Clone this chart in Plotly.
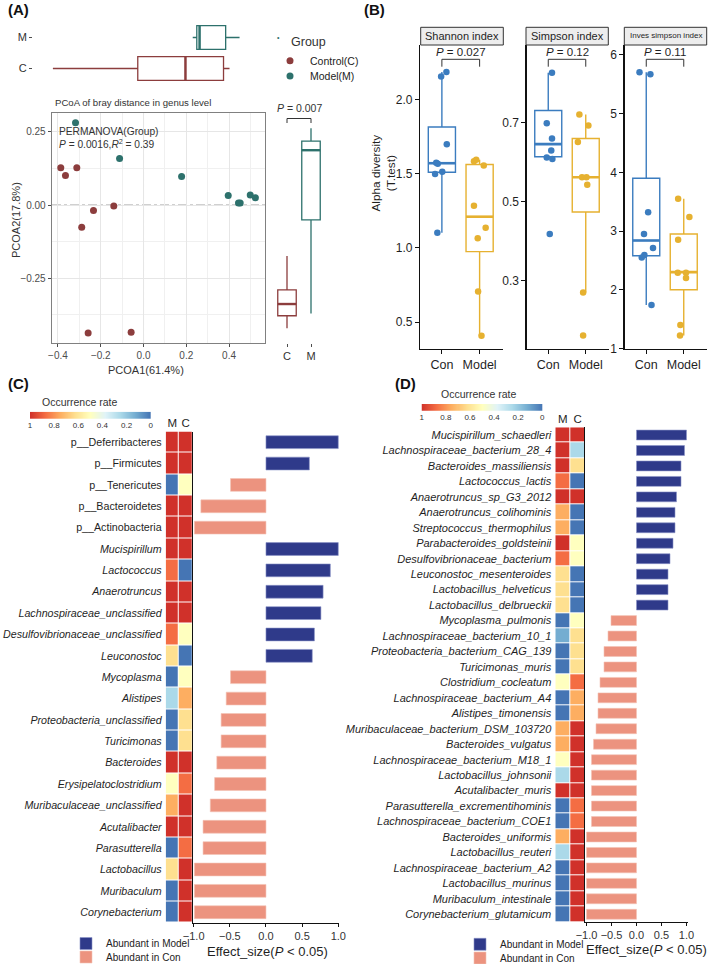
import numpy as np
import plotly.graph_objects as go

W, H = 709, 964
FONT = "Liberation Sans, Arial, Helvetica, sans-serif"
TXT = "#1f1f1f"

def fx(p):
    return p / W

def fy(p):
    return 1 - p / H

def dom_x(a, b):
    return [fx(a), fx(b)]

def dom_y(top, bot):
    return [fy(bot), fy(top)]

# ------------------------------------------------------------------ data A
GROUPS_A = ["C", "M"]
ctrl_pc1 = [-0.387, -0.365, -0.312, -0.234, -0.139, -0.289, -0.259, -0.058]
ctrl_pc2 = [0.127, 0.101, 0.127, -0.019, -0.003, -0.076, -0.437, -0.434]
model_pc1 = [-0.318, -0.112, 0.178, 0.396, 0.444, 0.452, 0.499, 0.523]
model_pc2 = [0.281, 0.159, 0.097, 0.032, 0.007, 0.007, 0.034, 0.025]
# marginal box statistics (C, M)
pc1_q1 = [-0.027, 0.249]
pc1_med = [0.196, 0.262]
pc1_q3 = [0.374, 0.384]
pc1_lo = [-0.424, 0.230]
pc1_hi = [0.402, 0.449]
pc2_q1 = [-0.378, -0.051]
pc2_med = [-0.338, 0.187]
pc2_q3 = [-0.290, 0.218]
pc2_lo = [-0.421, -0.370]
pc2_hi = [-0.174, 0.262]
LEGEND_A = ["Control(C)", "Model(M)"]

# ------------------------------------------------------------------ data B
ALPHA_GROUPS = ["Con", "Model"]
INDEX_NAMES = ["Shannon index", "Simpson index", "Inves simpson index"]
P_ALPHA = ["0.027", "0.12", "0.11"]
shannon_con = [2.157, 2.187, 1.70, 1.576, 1.568, 1.50, 1.514, 1.103]
shannon_model = [1.586, 1.595, 1.557, 1.285, 1.137, 1.066, 0.706, 0.407]
simpson_con = [0.827, 0.699, 0.660, 0.630, 0.612, 0.608, 0.418]
simpson_model = [0.721, 0.693, 0.651, 0.562, 0.562, 0.543, 0.270, 0.161]
invsimp_con = [5.705, 5.67, 3.32, 2.95, 2.71, 2.59, 2.55, 1.74]
invsimp_model = [3.55, 3.24, 2.85, 2.29, 2.29, 2.20, 1.40, 1.22]
# box statistics [Con, Model]
shannon_stats = dict(q1=[1.511, 0.975], med=[1.572, 1.211], q3=[1.816, 1.563], lo=[1.103, 0.407], hi=[2.187, 1.595])
simpson_stats = dict(q1=[0.614, 0.474], med=[0.646, 0.562], q3=[0.731, 0.660], lo=[0.608, 0.270], hi=[0.827, 0.721])
invsimp_stats = dict(q1=[2.58, 2.00], med=[2.84, 2.30], q3=[3.90, 2.95], lo=[1.74, 1.22], hi=[5.705, 3.55])
# horizontal jitter of the points (layout only)
jit_shannon_con = [-0.02, 0.12, 0.13, -0.15, -0.11, -0.18, 0.01, -0.12]
jit_shannon_model = [-0.15, -0.09, 0.11, -0.15, 0.16, -0.05, -0.04, 0.05]
jit_simpson_con = [0.10, -0.04, 0.10, 0.08, -0.04, 0.11, 0.04]
jit_simpson_model = [-0.17, 0.07, -0.21, -0.10, 0.02, 0.04, -0.07, -0.07]
jit_invsimp_con = [-0.18, 0.11, 0.05, -0.06, 0.18, -0.05, -0.12, 0.14]
jit_invsimp_model = [-0.15, 0.15, -0.15, -0.16, 0.06, 0.06, -0.09, -0.10]

# ------------------------------------------------------------------ data C
C_TAXA = ["p__Deferribacteres", "p__Firmicutes", "p__Tenericutes", "p__Bacteroidetes",
          "p__Actinobacteria", "Mucispirillum", "Lactococcus", "Anaerotruncus",
          "Lachnospiraceae_unclassified", "Desulfovibrionaceae_unclassified", "Leuconostoc",
          "Mycoplasma", "Alistipes", "Proteobacteria_unclassified", "Turicimonas", "Bacteroides",
          "Erysipelatoclostridium", "Muribaculaceae_unclassified", "Acutalibacter", "Parasutterella",
          "Lactobacillus", "Muribaculum", "Corynebacterium"]
C_EFFECT = [1.0, 0.60, -0.49, -0.90, -0.99, 1.0, 0.89, 0.79, 0.76, 0.67, 0.64,
            -0.49, -0.55, -0.62, -0.62, -0.68, -0.71, -0.77, -0.87, -0.87, -0.99, -0.99, -0.99]
C_OCC_M = [1, 1, 0, 1, 1, 1, 0.875, 1, 1, 0.875, 0.625,
           0, 0.25, 0, 0, 1, 0.5, 0.75, 1, 0, 0.625, 0, 0]
C_OCC_C = [1, 1, 0.5, 1, 1, 1, 0, 1, 1, 0.5, 0,
           0.5, 0.75, 0.625, 0.625, 1, 0.875, 1, 1, 0.875, 1, 1, 1]

# ------------------------------------------------------------------ data D
D_TAXA = ["Mucispirillum_schaedleri", "Lachnospiraceae_bacterium_28_4", "Bacteroides_massiliensis",
          "Lactococcus_lactis", "Anaerotruncus_sp_G3_2012", "Anaerotruncus_colihominis",
          "Streptococcus_thermophilus", "Parabacteroides_goldsteinii", "Desulfovibrionaceae_bacterium",
          "Leuconostoc_mesenteroides", "Lactobacillus_helveticus", "Lactobacillus_delbrueckii",
          "Mycoplasma_pulmonis", "Lachnospiraceae_bacterium_10_1", "Proteobacteria_bacterium_CAG_139",
          "Turicimonas_muris", "Clostridium_cocleatum", "Lachnospiraceae_bacterium_A4",
          "Alistipes_timonensis", "Muribaculaceae_bacterium_DSM_103720", "Bacteroides_vulgatus",
          "Lachnospiraceae_bacterium_M18_1", "Lactobacillus_johnsonii", "Acutalibacter_muris",
          "Parasutterella_excrementihominis", "Lachnospiraceae_bacterium_COE1", "Bacteroides_uniformis",
          "Lactobacillus_reuteri", "Lachnospiraceae_bacterium_A2", "Lactobacillus_murinus",
          "Muribaculum_intestinale", "Corynebacterium_glutamicum"]
D_EFFECT = [1.0, 0.96, 0.89, 0.89, 0.80, 0.77, 0.77, 0.73, 0.67, 0.63, 0.63, 0.63,
            -0.51, -0.57, -0.65, -0.65, -0.73, -0.77, -0.77, -0.81, -0.86, -0.90, -0.90, -0.90,
            -0.90, -0.90, -1.0, -1.0, -1.0, -1.0, -1.0, -1.0]
D_OCC_M = [1, 1, 1, 0.875, 1, 0.75, 0.75, 1, 0.875, 0.625, 0.625, 0.625,
           0, 0.125, 0, 0, 0.5, 0, 0, 0.75, 0.75, 0.5, 0.25, 1,
           0, 0, 0.75, 0.25, 0, 0, 0, 0]
D_OCC_C = [1, 0.25, 0.625, 0, 1, 0, 0, 0.5, 0.5, 0, 0, 0,
           0.5, 0.625, 0.625, 0.625, 0.875, 0.75, 0.75, 1, 1, 1, 1, 1,
           0.875, 0.875, 1, 1, 1, 1, 1, 1]

OCC_TICKS = [1, 0.8, 0.6, 0.4, 0.2, 0]
EFFECT_TICKS = [-1.0, -0.5, 0.0, 0.5, 1.0]
BAR_LEGEND = ["Abundant in Model", "Abundant in Con"]

# ------------------------------------------------------------------ style
COL_A = ["#8C3D3D", "#2D716C"]
COL_B = ["#3B7CBF", "#E6B130"]
COL_MODEL_BAR = "#2F3A8A"
COL_CON_BAR = "#EC937F"
CSCALE = [[0, "#4575B4"], [0.125, "#74ADD1"], [0.25, "#ABD9E9"], [0.375, "#E0F3F8"],
          [0.5, "#FFFFBF"], [0.625, "#FEE090"], [0.75, "#FDAE61"], [0.875, "#F46D43"],
          [1, "#D0312A"]]

fig = go.Figure()
layout = {}
annotations = []
shapes = []

def ann(text, x, y, size=11, xanchor="center", yanchor="middle", angle=0, color=TXT, **kw):
    annotations.append(dict(text=text, x=fx(x), y=fy(y), xref="paper", yref="paper",
                            xanchor=xanchor, yanchor=yanchor, showarrow=False, textangle=angle,
                            font=dict(size=size, color=color, family=FONT), **kw))

# ================================================================== Panel A
XR_A = [-0.428, 0.568]
XR_TOP = [-0.517, 0.568]
YR_A = [-0.471, 0.314]
BOXW_A = 0.77
for i, g in enumerate(GROUPS_A):
    fig.add_trace(go.Box(y=[i], q1=[pc1_q1[i]], median=[pc1_med[i]], q3=[pc1_q3[i]],
                         lowerfence=[pc1_lo[i]], upperfence=[pc1_hi[i]], orientation="h",
                         width=BOXW_A, whiskerwidth=0, fillcolor="rgba(255,255,255,0)",
                         line=dict(color=COL_A[i], width=1.3), boxpoints=False,
                         showlegend=False, xaxis="x", yaxis="y"))
    fig.add_trace(go.Scatter(x=[pc1_med[i], pc1_med[i]], y=[i - BOXW_A / 2, i + BOXW_A / 2],
                             mode="lines", line=dict(color=COL_A[i], width=2.4),
                             showlegend=False, xaxis="x", yaxis="y"))
    fig.add_trace(go.Box(x=[i], q1=[pc2_q1[i]], median=[pc2_med[i]], q3=[pc2_q3[i]],
                         lowerfence=[pc2_lo[i]], upperfence=[pc2_hi[i]],
                         width=BOXW_A, whiskerwidth=0, fillcolor="rgba(255,255,255,0)",
                         line=dict(color=COL_A[i], width=1.3), boxpoints=False,
                         showlegend=False, xaxis="x3", yaxis="y3"))
    fig.add_trace(go.Scatter(x=[i - BOXW_A / 2, i + BOXW_A / 2], y=[pc2_med[i], pc2_med[i]],
                             mode="lines", line=dict(color=COL_A[i], width=2.4),
                             showlegend=False, xaxis="x3", yaxis="y3"))

fig.add_trace(go.Scatter(x=ctrl_pc1, y=ctrl_pc2, mode="markers", name=LEGEND_A[0],
                         marker=dict(color=COL_A[0], size=7), legend="legend",
                         xaxis="x2", yaxis="y2"))
fig.add_trace(go.Scatter(x=model_pc1, y=model_pc2, mode="markers", name=LEGEND_A[1],
                         marker=dict(color=COL_A[1], size=7), legend="legend6",
                         xaxis="x2", yaxis="y2"))

tick_a = dict(size=10, color="#4d4d4d", family=FONT)
layout["xaxis"] = dict(domain=dom_x(33, 265), anchor="y", range=XR_TOP, visible=False)
layout["yaxis"] = dict(domain=dom_y(22, 84), anchor="x", range=[-0.5, 1.5], tickvals=[0, 1],
                       ticktext=GROUPS_A, ticks="outside", ticklen=3, tickcolor="#4d4d4d",
                       tickfont=dict(size=11, color="#333", family=FONT), showgrid=False,
                       zeroline=False, showline=False)
layout["xaxis2"] = dict(domain=dom_x(52, 265), anchor="y2", range=XR_A, dtick=0.2, tick0=0,
                        tickformat=".1f", ticks="outside", ticklen=3, tickcolor="#4d4d4d",
                        tickfont=tick_a, showgrid=True, gridcolor="#E6E6E6", gridwidth=1,
                        minor=dict(dtick=0.1, showgrid=True, gridcolor="#F0F0F0"),
                        zeroline=False, showline=True, mirror=True, linecolor="#808080",
                        linewidth=1.3)
layout["yaxis2"] = dict(domain=dom_y(113, 343), anchor="x2", range=YR_A, dtick=0.25, tick0=0,
                        tickformat=".2f", ticks="outside", ticklen=3, tickcolor="#4d4d4d",
                        tickfont=tick_a, showgrid=True, gridcolor="#E6E6E6", gridwidth=1,
                        minor=dict(dtick=0.125, showgrid=True, gridcolor="#F0F0F0"),
                        zeroline=False, showline=True, mirror=True, linecolor="#808080",
                        linewidth=1.3)
layout["xaxis3"] = dict(domain=dom_x(275, 323), anchor="y3", range=[-0.5, 1.5], tickvals=[0, 1],
                        ticktext=GROUPS_A, ticks="outside", ticklen=3, tickcolor="#4d4d4d",
                        tickfont=dict(size=11, color="#333", family=FONT), showgrid=False,
                        zeroline=False, showline=False)
layout["yaxis3"] = dict(domain=dom_y(113, 343), anchor="x3", range=YR_A, visible=False)

shapes.append(dict(type="line", xref="x2", yref="y2 domain", x0=0, x1=0, y0=0, y1=1,
                   line=dict(color="#A0A0A0", width=1, dash="dashdot"), layer="below"))
shapes.append(dict(type="line", xref="x2 domain", yref="y2", x0=0, x1=1, y0=0, y1=0,
                   line=dict(color="#A0A0A0", width=1, dash="dashdot"), layer="below"))
# significance bracket on the PCoA2 box plot
for x0, x1, y0, y1 in [(0, 0, 123, 118.5), (0, 1, 118.5, 118.5), (1, 1, 118.5, 123)]:
    shapes.append(dict(type="line", xref="x3", yref="paper", x0=x0, x1=x1, y0=fy(y0), y1=fy(y1),
                       line=dict(color="#333", width=1)))
ann("<i>P</i> = 0.007", 299, 108, size=10.5, color="#333")

ann("<b>(A)</b>", 6, 10, size=15, xanchor="left", color="#111")
ann("PCoA of bray distance in genus level", 53, 102.5, size=9.6, xanchor="left", color="#333")
ann("PERMANOVA(Group)", 57, 132, size=10.2, xanchor="left", color="#333")
ann("<i>P</i> = 0.0016,<i>R</i><sup>2</sup> = 0.39", 57, 143.5, size=10.2, xanchor="left", color="#333")
ann("PCOA2(17.8%)", 16, 220, size=11, angle=-90, color="#333")
ann("PCOA1(61.4%)", 146, 369.5, size=11, color="#333")
ann("Group", 289, 42, size=12.5, xanchor="left", color="#333")
ann("•", 278, 37.5, size=7, color=COL_A[1])

# ================================================================== Panel B
B_DATA = [(shannon_con, shannon_model, shannon_stats, jit_shannon_con, jit_shannon_model),
          (simpson_con, simpson_model, simpson_stats, jit_simpson_con, jit_simpson_model),
          (invsimp_con, invsimp_model, invsimp_stats, jit_invsimp_con, jit_invsimp_model)]
B_DOM = [(420, 503), (526.5, 609), (624.5, 707)]
B_STRIP = [(420.7, 503.3), (526, 608.3), (624.3, 706.7)]
B_YR = [[0.318, 2.37], [0.127, 0.897], [0.99, 6.17]]
B_TICKS = [([0.5, 1.0, 1.5, 2.0], ["0.5", "1.0", "1.5", "2.0"]),
           ([0.3, 0.5, 0.7], ["0.3", "0.5", "0.7"]),
           ([1, 2, 3, 4, 5, 6], ["1", "2", "3", "4", "5", "6"])]
XR_B = [-0.58, 1.62]
BOXW_B = 0.72
for k, (vc, vm, st, jc, jm) in enumerate(B_DATA):
    xa, ya = f"x{k + 4}", f"y{k + 4}"
    for i in range(2):
        fig.add_trace(go.Box(x=[i], q1=[st["q1"][i]], median=[st["med"][i]], q3=[st["q3"][i]],
                             lowerfence=[st["lo"][i]], upperfence=[st["hi"][i]],
                             width=BOXW_B, whiskerwidth=0, fillcolor="rgba(255,255,255,0)",
                             line=dict(color=COL_B[i], width=1.4), boxpoints=False,
                             showlegend=False, xaxis=xa, yaxis=ya))
        fig.add_trace(go.Scatter(x=[i - BOXW_B / 2, i + BOXW_B / 2], y=[st["med"][i]] * 2,
                                 mode="lines", line=dict(color=COL_B[i], width=2.6),
                                 showlegend=False, xaxis=xa, yaxis=ya))
    fig.add_trace(go.Scatter(x=[0 + j for j in jc], y=vc, mode="markers",
                             marker=dict(color=COL_B[0], size=6.5), showlegend=False,
                             xaxis=xa, yaxis=ya))
    fig.add_trace(go.Scatter(x=[1 + j for j in jm], y=vm, mode="markers",
                             marker=dict(color=COL_B[1], size=6.5), showlegend=False,
                             xaxis=xa, yaxis=ya))
    tv, tt = B_TICKS[k]
    layout[f"xaxis{k + 4}"] = dict(domain=dom_x(*B_DOM[k]), anchor=ya, range=XR_B,
                                   tickvals=[0, 1], ticktext=ALPHA_GROUPS, ticks="outside",
                                   ticklen=4, tickcolor="#111", showline=True, linecolor="#111",
                                   linewidth=1.2, showgrid=False, zeroline=False,
                                   tickfont=dict(size=12.5, color=TXT, family=FONT))
    layout[f"yaxis{k + 4}"] = dict(domain=dom_y(45, 349), anchor=xa, range=B_YR[k],
                                   tickvals=tv, ticktext=tt, ticks="outside", ticklen=4,
                                   tickcolor="#111", showline=True, linecolor="#111",
                                   linewidth=1.2, showgrid=False, zeroline=False,
                                   tickfont=dict(size=12, color=TXT, family=FONT))
    sx0, sx1 = B_STRIP[k]
    shapes.append(dict(type="rect", xref="paper", yref="paper", x0=fx(sx0), x1=fx(sx1),
                       y0=fy(45), y1=fy(27.3), fillcolor="#EDEDED",
                       line=dict(color="#333", width=1)))
    ann(INDEX_NAMES[k], (sx0 + sx1) / 2, 36, size=(11 if k < 2 else 8), color=TXT)
    for x0, x1, y0, y1 in [(0, 0, 66.7, 59.3), (0, 1, 59.3, 59.3), (1, 1, 59.3, 66.7)]:
        shapes.append(dict(type="line", xref=xa, yref="paper", x0=x0, x1=x1,
                           y0=fy(y0), y1=fy(y1), line=dict(color="#333", width=1)))
    cx = (B_DOM[k][0] + (B_DOM[k][1] - B_DOM[k][0]) * (0.5 - XR_B[0]) / (XR_B[1] - XR_B[0]))
    ann(f"<i>P</i> = {P_ALPHA[k]}", cx, 51.5, size=11.5, color=TXT)

ann("<b>(B)</b>", 362, 10, size=15, xanchor="left", color="#111")
ann("Alpha diversity<br>(T.test)", 382.5, 173, size=11.8, angle=-90, color=TXT)

# ================================================================== Panel C / D helpers
def label(n):
    return n if n.startswith("p__") else f"<i>{n}</i>"

def occ_panel(taxa, effect, occ_m, occ_c, hx, hy, bx, bxr, ax_h, ax_b, lg_model, lg_con,
              lab_size, barw):
    n = len(taxa)
    hxa, hya = f"x{ax_h}", f"y{ax_h}"
    bxa, bya = f"x{ax_b}", f"y{ax_b}"
    fig.add_trace(go.Heatmap(z=[[m, c] for m, c in zip(occ_m, occ_c)], x=["M", "C"], y=taxa,
                             colorscale=CSCALE, zmin=0, zmax=1, showscale=False,
                             xgap=1, ygap=1, xaxis=hxa, yaxis=hya))
    pos = [(t, e) for t, e in zip(taxa, effect) if e > 0]
    neg = [(t, e) for t, e in zip(taxa, effect) if e < 0]
    fig.add_trace(go.Bar(y=[t for t, _ in pos], x=[e for _, e in pos], orientation="h",
                         width=barw, marker=dict(color=COL_MODEL_BAR,
                                                 line=dict(color="#8C94C8", width=0.6)),
                         name=BAR_LEGEND[0], legend=lg_model, xaxis=bxa, yaxis=bya))
    fig.add_trace(go.Bar(y=[t for t, _ in neg], x=[e for _, e in neg], orientation="h",
                         width=barw, marker=dict(color=COL_CON_BAR,
                                                 line=dict(color="#F4C2B6", width=0.6)),
                         name=BAR_LEGEND[1], legend=lg_con, xaxis=bxa, yaxis=bya))
    layout[f"xaxis{ax_h}"] = dict(domain=dom_x(*hx), anchor=hya, side="top", ticks="",
                                  type="category", tickvals=["M", "C"], ticktext=["M", "C"],
                                  showgrid=False, zeroline=False, showline=False,
                                  ticklabelstandoff=1,
                                  tickfont=dict(size=11.5, color=TXT, family=FONT))
    layout[f"yaxis{ax_h}"] = dict(domain=dom_y(*hy), anchor=hxa, type="category",
                                  categoryorder="array", categoryarray=taxa,
                                  range=[n - 0.5, -0.5], tickvals=taxa,
                                  ticktext=[label(t) for t in taxa], ticks="",
                                  ticklabelstandoff=3, showgrid=False, zeroline=False,
                                  tickfont=dict(size=lab_size, color=TXT, family=FONT))
    layout[f"xaxis{ax_b}"] = dict(domain=dom_x(*bx), anchor=bya, range=bxr,
                                  tickvals=EFFECT_TICKS, tickformat=".1f", ticks="outside",
                                  ticklen=3, tickcolor="#111", showline=True, linecolor="#111",
                                  linewidth=1.2, showgrid=False, zeroline=False,
                                  tickfont=dict(size=11, color="#333", family=FONT))
    layout[f"yaxis{ax_b}"] = dict(domain=dom_y(*hy), anchor=bxa, type="category",
                                  categoryorder="array", categoryarray=taxa,
                                  range=[n - 0.5, -0.5], showticklabels=False, ticks="",
                                  showline=True, linecolor="#111", linewidth=1.3,
                                  showgrid=False, zeroline=False)

def colorbar_strip(ax, xd, yd):
    grad = list(np.linspace(0, 1, 121))
    fig.add_trace(go.Heatmap(z=[grad], x=grad, y=[0], colorscale=CSCALE, zmin=0, zmax=1,
                             showscale=False, xaxis=f"x{ax}", yaxis=f"y{ax}"))
    layout[f"xaxis{ax}"] = dict(domain=dom_x(*xd), anchor=f"y{ax}", range=[1, 0],
                                tickvals=OCC_TICKS, ticktext=[f"{v:g}" for v in OCC_TICKS],
                                ticks="", ticklabelstandoff=0, showgrid=False, zeroline=False,
                                tickfont=dict(size=8, color="#333", family=FONT))
    layout[f"yaxis{ax}"] = dict(domain=dom_y(*yd), anchor=f"x{ax}", range=[-0.5, 0.5],
                                visible=False)

# ================================================================== Panel C
occ_panel(C_TAXA, C_EFFECT, C_OCC_M, C_OCC_C, (165.7, 192.3), (431.5, 922.9),
          (193.3, 339), [-1.005, 1.01], 7, 8, "legend2", "legend3", 10.7, 0.6)
colorbar_strip(11, (30, 150.7), (411.7, 419))
ann("<b>(C)</b>", 6, 383.5, size=15, xanchor="left", color="#111")
ann("Occurrence rate", 79, 401.5, size=10.5, color="#333")
ann("Effect_size(<i>P</i> < 0.05)", 267.5, 951.5, size=13, color=TXT)

# ================================================================== Panel D
occ_panel(D_TAXA, D_EFFECT, D_OCC_M, D_OCC_C, (555.3, 585), (427.3, 922),
          (585, 688), [-1.03, 1.03], 9, 10, "legend4", "legend5", 11, 0.64)
colorbar_strip(12, (421.7, 542.3), (404, 410.7))
ann("<b>(D)</b>", 393, 383.5, size=15, xanchor="left", color="#111")
ann("Occurrence rate", 479, 394, size=10.5, color="#333")
ann("Effect_size(<i>P</i> < 0.05)", 646, 949.5, size=13, color=TXT)

# ================================================================== legends
def leg(x, y, size):
    return dict(x=fx(x), y=fy(y), xanchor="left", yanchor="middle", bgcolor="rgba(0,0,0,0)",
                borderwidth=0, itemwidth=30, itemclick=False,
                font=dict(size=size, color="#222", family=FONT))

layout["legend"] = leg(270, 60.7, 10.5)
layout["legend6"] = leg(270, 76, 10.5)
layout["legend2"] = leg(66, 943.5, 10)
layout["legend3"] = leg(66, 957, 10)
layout["legend4"] = leg(460, 944.3, 10)
layout["legend5"] = leg(460, 958, 10)

for key, val in layout.items():
    if key.startswith("xaxis") or key.startswith("yaxis"):
        val["automargin"] = False

fig.update_layout(width=W, height=H, margin=dict(l=0, r=0, t=0, b=0, autoexpand=False),
                  paper_bgcolor="white", plot_bgcolor="white", showlegend=True,
                  boxmode="overlay", barmode="overlay", hovermode=False,
                  font=dict(family=FONT, color=TXT), annotations=annotations, shapes=shapes,
                  **layout)
fig.write_html("out.html", config={"displayModeBar": False, "staticPlot": True},
               post_script="document.body.style.margin='0px';document.body.style.padding='0px';")
